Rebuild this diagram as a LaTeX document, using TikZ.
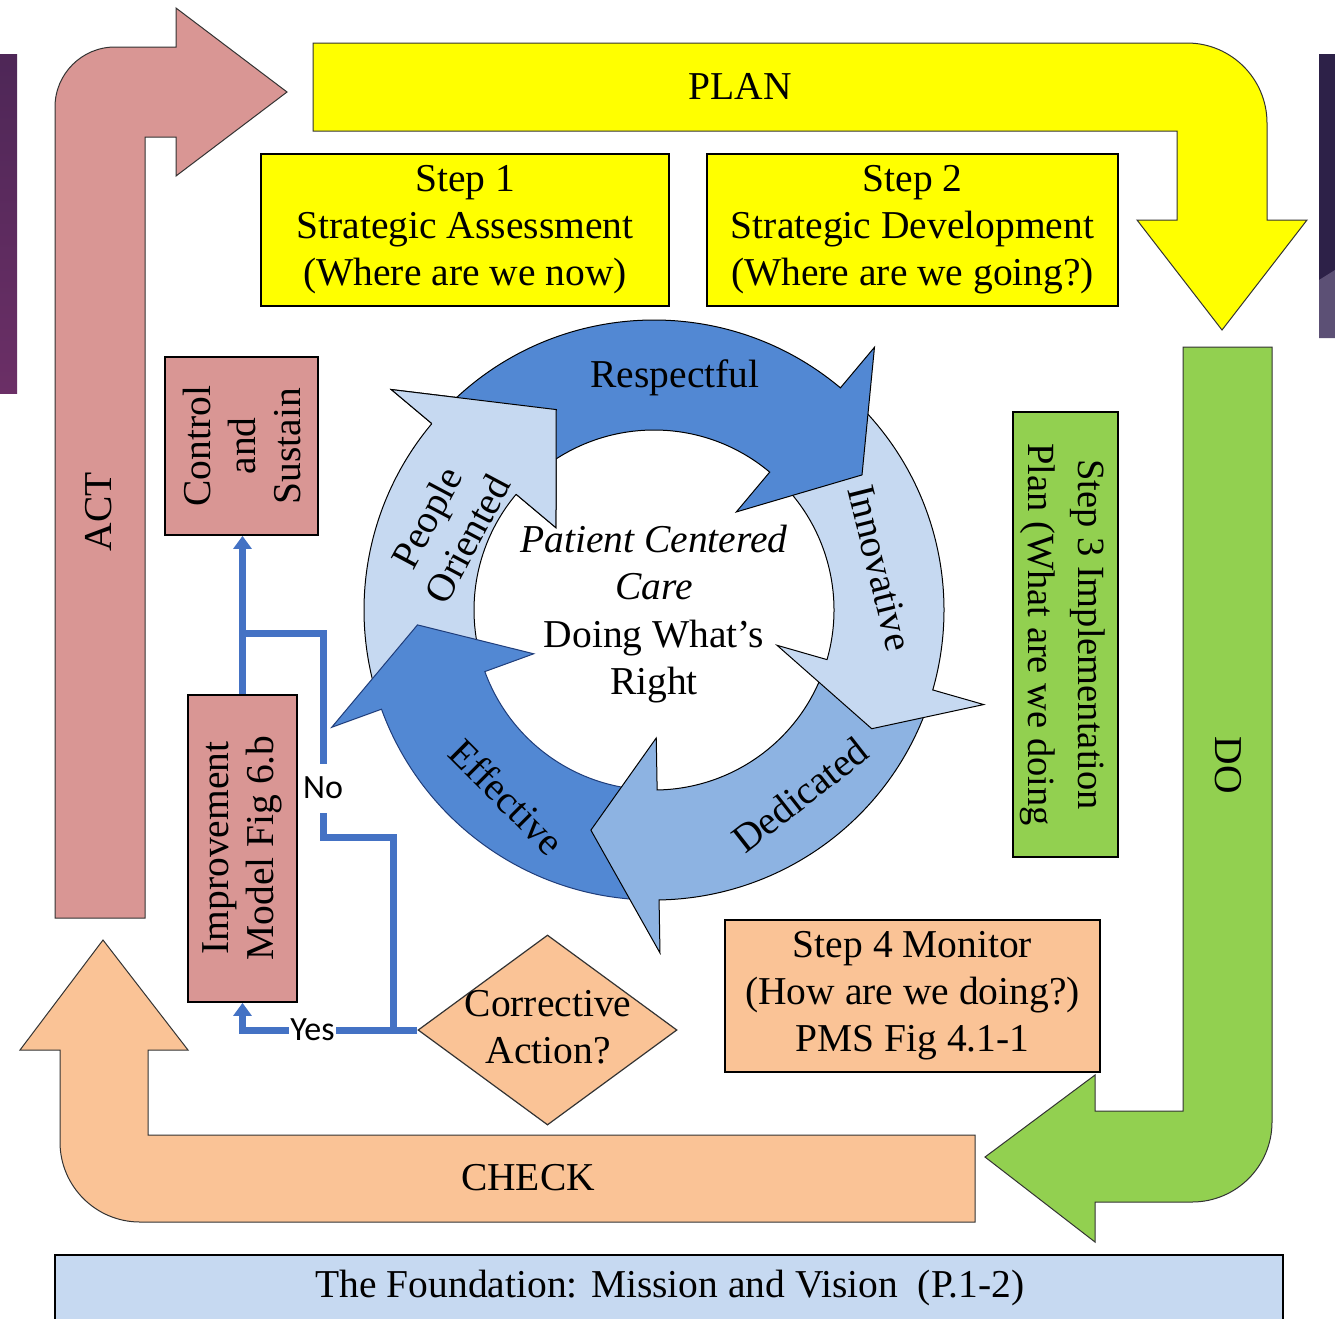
\documentclass[tikz,border=0pt]{standalone}
\usepackage{fontspec}
\setmainfont{Liberation Serif}
\newfontfamily\calibrifont{Carlito}
\usetikzlibrary{shapes.geometric,arrows.meta}
\definecolor{pinkA}{HTML}{D99694}
\definecolor{yellowA}{HTML}{FFFF00}
\definecolor{greenA}{HTML}{92D050}
\definecolor{peachA}{HTML}{FAC396}
\definecolor{foundA}{HTML}{C6D9F1}
\definecolor{ringDark}{HTML}{5288D3}
\definecolor{ringLight}{HTML}{C6D9F1}
\definecolor{ringMid}{HTML}{8DB3E2}
\definecolor{lineBlue}{HTML}{4472C4}
\definecolor{navyA}{HTML}{1F3D7A}
\definecolor{purpA}{HTML}{4E2757}
\definecolor{purpB}{HTML}{6B2F66}
\definecolor{purpC}{HTML}{2D2148}
\definecolor{purpD}{HTML}{5C5075}
\newcommand\RingArrow[6]{%
  \path[draw=#2, line width=1pt, fill=#1, line join=miter]
    (#3:180) -- (#3:290) arc[start angle=#3, end angle=#4, radius=290]
    -- (#4:343) -- (#5:#6) -- (#4:128) -- (#4:180)
    arc[start angle=#4, end angle=#3, radius=180] -- cycle;}
\begin{document}
\begin{tikzpicture}[x=1pt,y=-1pt,
  txt/.style={font=\fontsize{39.5}{47}\selectfont, align=center, inner sep=0pt, text=black},
  sbox/.style={draw=black, line width=1.8pt, inner sep=0pt},
  bigarrow/.style={draw=black!80, line width=1pt},
  blueline/.style={draw=lineBlue, line width=7pt},
  sans/.style={font=\calibrifont\fontsize{34}{36}\selectfont, fill=white, inner sep=1pt, text=black},
  tipA/.style={-{Triangle[width=18pt,length=13pt]}}]
\useasboundingbox (0,0) rectangle (1335,1318);
\fill[white] (0,0) rectangle (1335,1318);
% side bars
\shade[top color=purpA, bottom color=purpB] (0,54) rectangle (17,393);
\fill[purpC] (1319,54) rectangle (1335,338);
\fill[purpD] (1319,280) -- (1335,270) -- (1335,338) -- (1319,338) -- cycle;
% big arrows
\path[bigarrow, fill=pinkA] (55,918) -- (55,107) arc[start angle=180, end angle=270, radius=60]
  -- (176,47) -- (176,8) -- (287,92) -- (176,176) -- (176,137) -- (145,137) -- (145,918) -- cycle;
\path[bigarrow, fill=yellowA] (313,43) -- (1187,43) arc[start angle=-90, end angle=0, radius=80]
  -- (1267,220) -- (1307,220) -- (1222,330) -- (1137,220) -- (1177,220) -- (1177,131) -- (313,131) -- cycle;
\path[bigarrow, fill=greenA] (1183,347) -- (1272,347) -- (1272,1122) arc[start angle=0, end angle=90, radius=80]
  -- (1095,1202) -- (1095,1242) -- (985,1157) -- (1095,1075) -- (1095,1111) -- (1183,1111) -- cycle;
\path[bigarrow, fill=peachA] (975,1135) -- (148,1135) -- (148,1050) -- (188,1050) -- (103,940) -- (20,1050)
  -- (60,1050) -- (60,1142) arc[start angle=180, end angle=90, radius=80] -- (975,1222) -- cycle;
\node[txt] (plan) at (740,86) {PLAN};
\node[txt, rotate=90] (act) at (99,512) {ACT};
\node[txt, rotate=-90] (do) at (1228,765) {DO};
\node[txt] (check) at (528,1178) {CHECK};
% foundation
\draw[line width=1.8pt, fill=foundA] (55,1255) rectangle (1283,1330);
\node[txt] (found) at (670,1288) {The Foundation: Mission and Vision\ \ (P.1-2)};
% boxes
\node[sbox, txt, fill=yellowA, minimum width=408, minimum height=152] (s1) at (465,230)
  {Step 1\\Strategic Assessment\\(Where are we now)};
\node[sbox, txt, fill=yellowA, minimum width=411, minimum height=152] (s2) at (912.5,230)
  {Step 2\\Strategic Development\\(Where are we going?)};
\node[sbox, txt, fill=peachA, minimum width=375, minimum height=152] (s4) at (912.5,996)
  {Step 4 Monitor\\(How are we doing?)\\PMS Fig 4.1-1};
\node[sbox, fill=greenA, minimum width=105, minimum height=445] (s3) at (1065.5,634.5) {};
\node[txt, rotate=-90, font=\fontsize{38.5}{50}\selectfont] (s3t) at (1063,634.5)
  {Step 3 Implementation\\Plan (What are we doing};
\node[sbox, fill=pinkA, minimum width=153, minimum height=178] (ctrl) at (241.5,446) {};
\node[txt, rotate=90, font=\fontsize{39.5}{45}\selectfont] (ctrlt) at (241.5,446) {Control\\and\\Sustain};
\node[sbox, fill=pinkA, minimum width=109, minimum height=307] (impr) at (242.5,848.5) {};
\node[txt, rotate=90, font=\fontsize{39.5}{45}\selectfont] (imprt) at (242.5,848) {Improvement\\Model Fig 6.b};
\node[diamond, draw=black!80, line width=1.2pt, fill=peachA, minimum width=259, minimum height=190, inner sep=0pt] (diam) at (547.5,1030) {};
\node[txt] (diamt) at (548,1027) {Corrective\\Action?};
% ring of arrows
\begin{scope}[shift={(654,610)}, yscale=-1]
  \RingArrow{ringLight}{black}{198}{140}{116}{223}
  \RingArrow{ringDark}{navyA}{269}{200}{183.6}{237}
  \RingArrow{ringMid}{black}{-18}{-89}{-106}{229}
  \RingArrow{ringLight}{black}{48}{-16}{-28.6}{248}
  \RingArrow{ringDark}{black}{138}{50}{33}{248}
  \fill[ringLight] (140:343) -- (116:223) -- (140:128) -- cycle;
  \draw[line width=1pt, line join=miter] (140:290) -- (140:343) -- (116:223) -- (140:128) -- (140:180);
\end{scope}
\node[txt] (lresp) at (675,378) {Respectful};
\node[txt, rotate=-76] (linno) at (880,568) {Innovative};
\node[txt, rotate=38] (lded) at (800,795) {Dedicated};
\node[txt, rotate=-45] (leff) at (507,797) {Effective};
\node[txt, rotate=62, font=\fontsize{39.5}{46}\selectfont] (lpeo) at (447,528) {People\\Oriented};
\node[txt, font=\fontsize{39.5}{47.5}\selectfont] (core) at (654,614)
  {\textit{Patient Centered}\\\textit{Care}\\Doing What’s\\Right};
% blue connectors
\coordinate (j1) at (393,1030);
\coordinate (j2) at (243,633);
\draw[blueline, tipA] (impr.north) -- (impr.north |- ctrl.south);
\draw[blueline] (j1) -- (393,837) -- (323,837) -- node[sans, pos=0.24, minimum height=49pt] (no) {No} (323,633) -- (j2);
\draw[blueline, tipA] (diam.west) -- node[sans, pos=0.6] (yes) {Yes} (impr.south |- diam.west) -- (impr.south);
\end{tikzpicture}
\end{document}
